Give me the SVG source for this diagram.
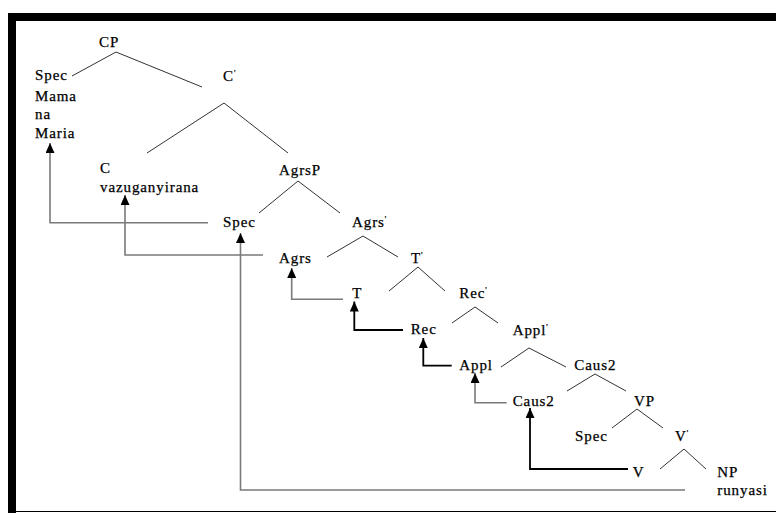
<svg xmlns="http://www.w3.org/2000/svg" width="776" height="513" viewBox="0 0 776 513">
  <defs>
    <style>
      text { font-family: "Liberation Serif", "Times New Roman", serif; font-size: 15px; letter-spacing: 0.9px; fill: #000; stroke: #000; stroke-width: 0.25px; }
      .pr { font-size: 8px; }
      .branch { stroke: #333; stroke-width: 1; fill: none; }
      .move { stroke: #000; stroke-width: 1.8; fill: none; }
      .move-grey { stroke: #7a7a7a; stroke-width: 1.6; fill: none; }
    </style>
    <marker id="head" markerUnits="userSpaceOnUse" markerWidth="10" markerHeight="9" refX="10" refY="4.5" orient="auto">
      <path d="M0,0 L10,4.5 L0,9 Z" fill="#000"/>
    </marker>
  </defs>

  <rect width="776" height="513" fill="#fff"/>

  <!-- frame -->
  <g id="frame">
    <rect x="8" y="13" width="768" height="8" fill="#000"/>
    <rect x="8" y="13" width="8" height="500" fill="#000"/>
    <line x1="16" y1="511.5" x2="776" y2="511.5" stroke="#000" stroke-width="1"/>
  </g>

  <!-- tree branches and movement arrows -->
  <g id="connectors">
    <polyline class="branch" points="72,76 116,52 202,87"/>
    <polyline class="branch" points="147,153 224,103 288,153"/>
    <polyline class="branch" points="259,213 298,181 340,213"/>
    <polyline class="branch" points="327,257 363,236 398,257"/>
    <polyline class="branch" points="389,291 418,267 445,291"/>
    <polyline class="branch" points="452,323 475,307 498,323"/>
    <polyline class="branch" points="501,367 529,348 566,367"/>
    <polyline class="branch" points="567,391 595,374 626,391"/>
    <polyline class="branch" points="612,428 637,409 663,428"/>
    <polyline class="branch" points="660,469 684,449 706,469"/>

    <polyline class="move-grey" points="208,222.7 50,222.7 50,143" marker-end="url(#head)"/>
    <polyline class="move-grey" points="263,255 125,255 125,195" marker-end="url(#head)"/>
    <polyline class="move-grey" points="685,490 240.5,490 240.5,233" marker-end="url(#head)"/>
    <polyline class="move-grey" points="343,299.3 291.7,299.3 291.7,268" marker-end="url(#head)"/>
    <polyline class="move" points="403,330 354.3,330 354.3,301.5" marker-end="url(#head)"/>
    <polyline class="move" points="451.7,365.7 423.3,365.7 423.3,338" marker-end="url(#head)"/>
    <polyline class="move-grey" points="506.7,402.7 475,402.7 475,373" marker-end="url(#head)"/>
    <polyline class="move" points="628,469 530,469 530,408" marker-end="url(#head)"/>
  </g>

  <g id="CP"><text x="99" y="47">CP</text></g>
  <g id="SpecCP">
    <text x="35" y="80">Spec</text>
    <text x="35" y="100.5">Mama</text>
    <text x="35" y="119.3">na</text>
    <text x="35" y="138.3">Maria</text>
  </g>
  <g id="Cbar"><text x="223" y="81">C<tspan class="pr" dy="-5">'</tspan></text></g>
  <g id="C">
    <text x="100" y="173">C</text>
    <text x="100" y="192">vazuganyirana</text>
  </g>
  <g id="AgrsP"><text x="279" y="174.5">AgrsP</text></g>
  <g id="SpecAgrsP"><text x="223" y="227.3">Spec</text></g>
  <g id="Agrsbar"><text x="352" y="227.3">Agrs<tspan class="pr" dy="-5">'</tspan></text></g>
  <g id="Agrs"><text x="279" y="262.7">Agrs</text></g>
  <g id="Tbar"><text x="411" y="262.7">T<tspan class="pr" dy="-5">'</tspan></text></g>
  <g id="T"><text x="352.3" y="298.3">T</text></g>
  <g id="Recbar"><text x="459.3" y="298.3">Rec<tspan class="pr" dy="-5">'</tspan></text></g>
  <g id="Rec"><text x="410.7" y="334">Rec</text></g>
  <g id="Applbar"><text x="512.7" y="335">Appl<tspan class="pr" dy="-5">'</tspan></text></g>
  <g id="Appl"><text x="459.3" y="370">Appl</text></g>
  <g id="Caus2P"><text x="574.3" y="370">Caus2</text></g>
  <g id="Caus2"><text x="512.7" y="405.7">Caus2</text></g>
  <g id="VP"><text x="634" y="405.7">VP</text></g>
  <g id="SpecVP"><text x="575" y="440.7">Spec</text></g>
  <g id="Vbar"><text x="675" y="440.7">V<tspan class="pr" dy="-5">'</tspan></text></g>
  <g id="V"><text x="632.7" y="476.7">V</text></g>
  <g id="NP">
    <text x="717.3" y="476.7">NP</text>
    <text x="717.3" y="495">runyasi</text>
  </g>
</svg>
